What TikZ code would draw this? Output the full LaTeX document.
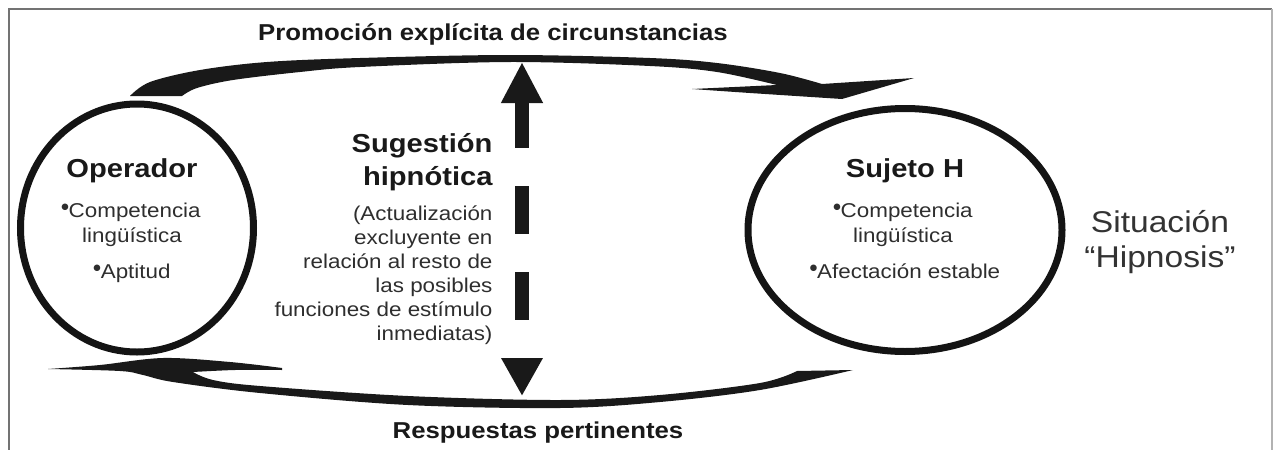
\documentclass[tikz,border=0pt]{standalone}
\usepackage{fontspec}
\setmainfont{Liberation Sans}[FakeStretch=1.12]
\newfontfamily\dotfont{DejaVu Sans}
\usetikzlibrary{shapes.geometric,arrows.meta,positioning}
\newcommand{\itemdot}{\raisebox{8pt}{\dotfont\fontsize{8.5}{8.5}\selectfont ●}}

\tikzset{
  headline/.style={font=\bfseries\fontsize{23}{27}\selectfont, text=black!90},
  boldtitle/.style={font=\bfseries\fontsize{26}{30}\selectfont, text=black!90},
  smalltext/.style={font=\fontsize{20}{24}\selectfont, text=black!82},
  situtext/.style={font=\fontsize{30}{34}\selectfont, text=black!80},
  circlenode/.style={draw=black!92, line width=7pt, ellipse, inner sep=0pt},
  swoosh/.style={fill=black!90},
  framebar/.style={draw=black!55, line width=2pt},
}

\begin{document}
\begin{tikzpicture}[x=1pt, y=-1pt]
  \useasboundingbox (0,0) rectangle (1275,450);

  % frame
  \draw[framebar] (9,450) -- (9,9) -- (1272,9);
  \draw[draw=black!30, line width=1.5pt] (1272,9) -- (1272,450);

  % the two participants
  \node[circlenode, minimum width=233pt, minimum height=248pt] (oper) at (137,228) {};
  \node[circlenode, minimum width=314pt, minimum height=243pt] (sujeto) at (905,230) {};

  \node[boldtitle, anchor=base] (opname) at (132,177) {Operador};
  \node[smalltext, anchor=base] (opc1) at (131,217) {\itemdot Competencia};
  \node[smalltext, anchor=base] (opc2) at (132,242) {lingüística};
  \node[smalltext, anchor=base] (opc3) at (132,278) {\itemdot Aptitud};

  \node[boldtitle, anchor=base] (sjname) at (905,177) {Sujeto H};
  \node[smalltext, anchor=base] (sjc1) at (903,217) {\itemdot Competencia};
  \node[smalltext, anchor=base] (sjc2) at (903,242) {lingüística};
  \node[smalltext, anchor=base] (sjc3) at (905,278) {\itemdot Afectación estable};

  \node[situtext, anchor=base] (sit1) at (1160,232) {Situación};
  \node[situtext, anchor=base] (sit2) at (1160,267) {“Hipnosis”};

  % labels of the loop
  \node[headline, anchor=base] (promo) at (493,40) {Promoción explícita de circunstancias};
  \node[headline, anchor=base] (resp) at (538,438) {Respuestas pertinentes};

  % middle text
  \node[boldtitle, anchor=base east] (sug1) at (496,152) {Sugestión};
  \node[boldtitle, anchor=base east] (sug2) at (496,185) {hipnótica};
  \foreach \txt [count=\i] in {{(Actualización}, {excluyente en}, {relación al resto de},
      {las posibles}, {funciones de estímulo}, {inmediatas)}}
    \node[smalltext, anchor=base east] (desc\i) at (496,{196+24*\i}) {\txt};

  % upper swoosh, operador -> sujeto
  \fill[swoosh] plot[smooth, tension=0.55] coordinates {(130,96) (150,82) (200,70) (267,62)
      (360,58) (510,55) (650,58) (717,63) (780,73) (822,84)}
    -- (914,78) -- (842,99)
    -- plot[smooth] coordinates {(842,99) (750,93) (692,89)}
    -- (777,85)
    -- plot[smooth, tension=0.55] coordinates {(777,85) (717,72) (650,66) (510,62) (360,67)
      (300,72) (233,80) (197,88) (182,96)}
    -- cycle;

  % lower swoosh, sujeto -> operador
  \fill[swoosh] plot[smooth, tension=0.55] coordinates {(48,369) (100,365) (163,358) (230,362) (282,368)}
    -- plot[smooth] coordinates {(282,370) (235,370) (193,372)}
    -- plot[smooth, tension=0.55] coordinates {(193,372) (213,380) (260,386) (408,396) (560,400)
      (660,395) (760,383) (797,371)}
    -- (853,370)
    -- plot[smooth, tension=0.55] coordinates {(853,370) (760,390) (660,402) (560,408) (408,405)
      (260,393) (173,382) (143,375) (120,371) (48,369)}
    -- cycle;

  % suggestion arrow
  \coordinate (sugtop) at (522,62);
  \coordinate (sugbot) at (522,396);
  \draw[black!90, line width=14pt, dash pattern=on 48pt off 38pt,
    {Triangle[length=41pt,width=39pt]}-{Triangle[length=38pt,width=39pt]}] (sugtop) -- (sugbot);
\end{tikzpicture}
\end{document}
